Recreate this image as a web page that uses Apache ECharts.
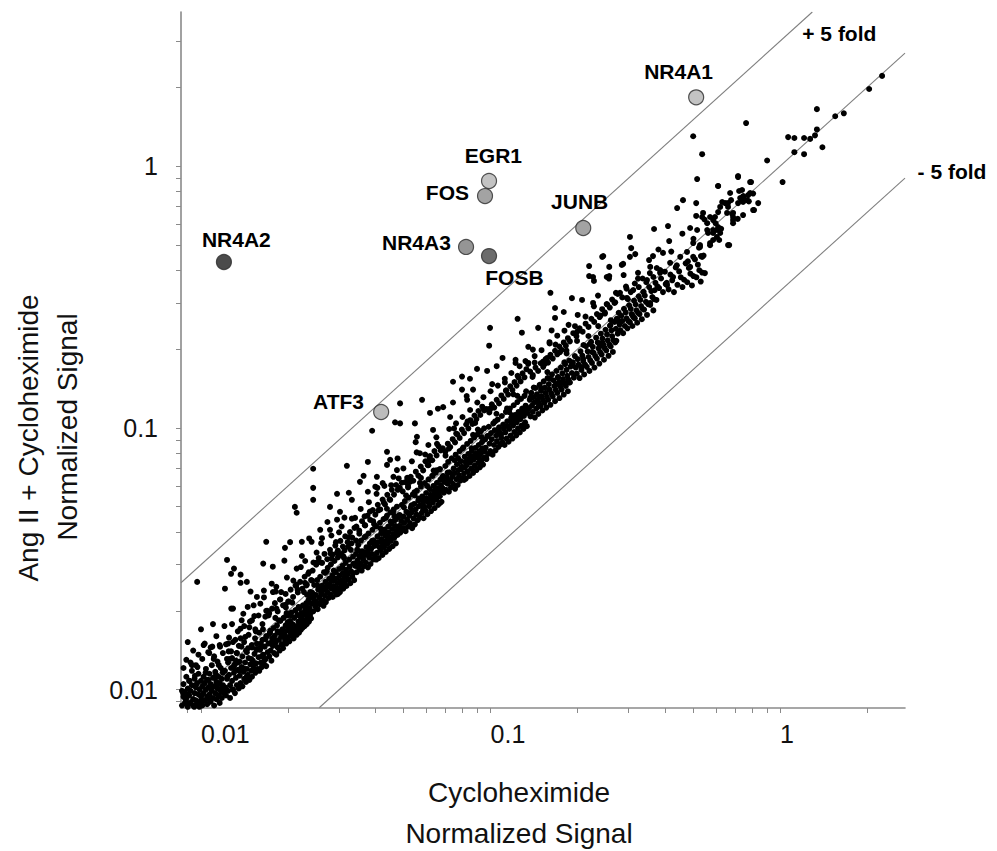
<!DOCTYPE html>
<html><head><meta charset="utf-8">
<script src="https://cdn.jsdelivr.net/npm/echarts@6/dist/echarts.min.js"></script>
<style>html,body{margin:0;padding:0;background:#fff}#c{width:997px;height:851px}</style>
</head><body><div id="c"></div>
<script>
// ---------- axis ticks / labels ----------
const xTickValues = [0.009,0.01,0.02,0.03,0.04,0.05,0.06,0.07,0.08,0.09,0.1,0.2,0.3,0.4,0.5,0.6,0.7,0.8,0.9,1,2];
const xLabelValues = [0.01,0.1,1];
const yTickValues = [0.009,0.01,0.02,0.03,0.04,0.05,0.06,0.07,0.08,0.09,0.1,0.2,0.3,0.4,0.5,0.6,0.7,0.8,0.9,1,2,3];
const yLabelValues = [0.01,0.1,1];
const xRange = [0.00853, 2.70];
const yRange = [0.00851, 3.877];

// ---------- reference lines (+5 fold, identity, -5 fold as drawn) ----------
const foldUpperLine = [[0.00853,0.0256],[1.292,3.877]];
const identityLine = [[0.00853,0.00853],[2.70,2.70]];
const foldLowerLine = [[0.0256,0.00853],[2.70,0.90]];
const foldLabels = ['+ 5 fold','- 5 fold'];

// ---------- highlighted genes ----------
const geneNames = ['NR4A2','NR4A1','EGR1','FOS','JUNB','NR4A3','FOSB','ATF3'];
const geneX = [0.0120,0.513,0.0988,0.0957,0.209,0.0823,0.0988,0.0419];
const geneY = [0.430,1.83,0.877,0.768,0.580,0.491,0.453,0.115];

// ---------- genes scatter (Cycloheximide, Ang II + Cycloheximide) ----------
const bandLow = [
[0.0085,0.0092],[0.0086,0.0087],[0.0086,0.0099],[0.0087,0.0094],[0.0087,0.0105],[0.0088,0.0089],[0.0088,0.0098],[0.0089,0.0093],[0.0089,0.0112],[0.0090,0.0086],
[0.0090,0.0101],[0.0091,0.0095],[0.0091,0.0108],[0.0092,0.0089],[0.0092,0.0099],[0.0093,0.0104],[0.0093,0.0118],[0.0094,0.0092],[0.0094,0.0087],[0.0095,0.0097],
[0.0095,0.0110],[0.0096,0.0102],[0.0096,0.0091],[0.0097,0.0088],[0.0097,0.0106],[0.0098,0.0096],[0.0098,0.0115],[0.0099,0.0100],[0.0099,0.0090],[0.0100,0.0094],
[0.0100,0.0108],[0.0101,0.0087],[0.0101,0.0103],[0.0102,0.0097],[0.0102,0.0112],[0.0103,0.0091],[0.0103,0.0106],[0.0104,0.0100],[0.0104,0.0120],[0.0105,0.0094],
[0.0105,0.0088],[0.0106,0.0109],[0.0106,0.0102],[0.0107,0.0096],[0.0107,0.0115],[0.0108,0.0090],[0.0108,0.0105],[0.0109,0.0099],[0.0109,0.0124],[0.0110,0.0093],
[0.0110,0.0111],[0.0111,0.0103],[0.0111,0.0087],[0.0112,0.0097],[0.0112,0.0117],[0.0113,0.0107],[0.0113,0.0092],[0.0114,0.0101],[0.0114,0.0128],[0.0115,0.0095],
[0.0115,0.0112],[0.0116,0.0106],[0.0116,0.0089],[0.0117,0.0099],[0.0117,0.0121],[0.0118,0.0110],[0.0118,0.0093],[0.0119,0.0104],[0.0119,0.0116],[0.0120,0.0097],
[0.0087,0.0121],[0.0089,0.0130],[0.0092,0.0127],[0.0094,0.0141],[0.0096,0.0124],[0.0098,0.0136],[0.0101,0.0131],[0.0103,0.0150],[0.0106,0.0139],[0.0108,0.0145],
[0.0111,0.0134],[0.0113,0.0160],[0.0116,0.0148],[0.0119,0.0138],[0.0090,0.0152],[0.0100,0.0170],[0.0110,0.0178],
[0.0121,0.0102],[0.0121,0.0118],[0.0122,0.0095],[0.0123,0.0110],[0.0124,0.0127],[0.0124,0.0099],[0.0125,0.0114],[0.0126,0.0104],[0.0126,0.0093],[0.0127,0.0121],
[0.0128,0.0108],[0.0128,0.0132],[0.0129,0.0100],[0.0130,0.0116],[0.0131,0.0125],[0.0131,0.0097],[0.0132,0.0111],[0.0133,0.0104],[0.0133,0.0138],[0.0134,0.0119],
[0.0135,0.0101],[0.0136,0.0128],[0.0136,0.0113],[0.0137,0.0106],[0.0138,0.0122],[0.0139,0.0134],[0.0139,0.0103],[0.0140,0.0117],[0.0141,0.0110],[0.0142,0.0127],
[0.0143,0.0141],[0.0143,0.0107],[0.0144,0.0120],[0.0145,0.0114],[0.0146,0.0132],[0.0147,0.0109],[0.0148,0.0125],[0.0149,0.0118],[0.0150,0.0145],[0.0150,0.0112],
[0.0151,0.0129],[0.0152,0.0121],[0.0153,0.0137],[0.0154,0.0116],[0.0155,0.0126],[0.0156,0.0150],[0.0157,0.0120],[0.0158,0.0133],[0.0159,0.0118],[0.0160,0.0142],
[0.0161,0.0127],[0.0162,0.0122],[0.0163,0.0155],[0.0164,0.0136],[0.0165,0.0125],[0.0166,0.0146],[0.0167,0.0131],[0.0168,0.0123],[0.0169,0.0160],[0.0170,0.0139],
[0.0123,0.0131],[0.0127,0.0140],[0.0132,0.0129],[0.0138,0.0146],[0.0144,0.0139],[0.0149,0.0131],[0.0155,0.0143],[0.0161,0.0150],[0.0167,0.0156],
[0.0122,0.0149],[0.0125,0.0158],[0.0129,0.0152],[0.0134,0.0167],[0.0137,0.0157],[0.0141,0.0175],[0.0146,0.0162],[0.0150,0.0184],[0.0154,0.0170],[0.0158,0.0192],
[0.0163,0.0178],[0.0168,0.0200],[0.0128,0.0178],[0.0140,0.0195],[0.0152,0.0210],[0.0165,0.0225],
[0.0171,0.0150],[0.0172,0.0134],[0.0173,0.0165],[0.0174,0.0141],[0.0175,0.0129],[0.0176,0.0157],[0.0177,0.0147],[0.0178,0.0172],[0.0179,0.0138],[0.0180,0.0161],
[0.0181,0.0151],[0.0182,0.0136],[0.0183,0.0176],[0.0184,0.0145],[0.0185,0.0166],[0.0186,0.0155],[0.0187,0.0141],[0.0188,0.0183],[0.0189,0.0160],[0.0190,0.0149],
[0.0191,0.0170],[0.0192,0.0144],[0.0193,0.0188],[0.0194,0.0163],[0.0195,0.0155],[0.0196,0.0176],[0.0197,0.0150],[0.0198,0.0168],[0.0199,0.0192],[0.0200,0.0159],
[0.0201,0.0174],[0.0202,0.0153],[0.0203,0.0183],[0.0204,0.0165],[0.0205,0.0197],[0.0206,0.0160],[0.0207,0.0178],[0.0208,0.0170],[0.0209,0.0157],[0.0210,0.0188],
[0.0211,0.0166],[0.0212,0.0201],[0.0213,0.0175],[0.0214,0.0162],[0.0215,0.0193],[0.0216,0.0171],[0.0217,0.0182],[0.0218,0.0165],[0.0219,0.0205],[0.0220,0.0178],
[0.0221,0.0169],[0.0222,0.0196],[0.0223,0.0186],[0.0224,0.0172],[0.0225,0.0210],[0.0226,0.0181],[0.0227,0.0193],[0.0228,0.0175],[0.0229,0.0203],[0.0230,0.0184],
[0.0231,0.0214],[0.0232,0.0178],[0.0233,0.0197],[0.0234,0.0189],[0.0235,0.0220],[0.0236,0.0182],[0.0237,0.0205],[0.0238,0.0193],[0.0239,0.0226],[0.0240,0.0187],
[0.0172,0.0196],[0.0176,0.0204],[0.0180,0.0214],[0.0184,0.0199],[0.0188,0.0221],[0.0192,0.0210],[0.0196,0.0232],[0.0200,0.0217],[0.0204,0.0241],[0.0208,0.0226],
[0.0212,0.0250],[0.0216,0.0235],[0.0220,0.0258],[0.0224,0.0243],[0.0228,0.0270],[0.0232,0.0252],[0.0236,0.0281],[0.0240,0.0262],[0.0182,0.0247],[0.0198,0.0268],
[0.0214,0.0290],[0.0229,0.0310]
];
const bandMid = [
[0.0241,0.0213],[0.0242,0.0235],[0.0244,0.0199],[0.0245,0.0222],[0.0246,0.0251],[0.0248,0.0208],[0.0249,0.0230],[0.0250,0.0217],[0.0252,0.0262],[0.0253,0.0203],
[0.0254,0.0241],[0.0256,0.0225],[0.0257,0.0212],[0.0258,0.0270],[0.0260,0.0233],[0.0261,0.0219],[0.0262,0.0250],[0.0264,0.0240],[0.0265,0.0209],[0.0266,0.0281],
[0.0268,0.0228],[0.0269,0.0258],[0.0270,0.0216],[0.0272,0.0246],[0.0273,0.0236],[0.0274,0.0292],[0.0276,0.0224],[0.0277,0.0265],[0.0278,0.0252],[0.0280,0.0231],
[0.0281,0.0301],[0.0282,0.0243],[0.0284,0.0273],[0.0285,0.0226],[0.0286,0.0260],[0.0288,0.0248],[0.0289,0.0310],[0.0290,0.0237],[0.0292,0.0281],[0.0293,0.0266],
[0.0294,0.0231],[0.0296,0.0255],[0.0297,0.0320],[0.0298,0.0244],[0.0300,0.0289],[0.0301,0.0273],[0.0302,0.0236],[0.0304,0.0261],[0.0305,0.0330],[0.0306,0.0251],
[0.0308,0.0297],[0.0309,0.0279],[0.0310,0.0243],[0.0312,0.0268],[0.0313,0.0340],[0.0314,0.0256],[0.0316,0.0305],[0.0317,0.0287],[0.0318,0.0249],[0.0320,0.0275],
[0.0322,0.0351],[0.0323,0.0263],[0.0325,0.0314],[0.0326,0.0295],[0.0328,0.0255],[0.0330,0.0283],[0.0331,0.0362],[0.0333,0.0270],[0.0335,0.0322],[0.0336,0.0303],
[0.0338,0.0262],
[0.0243,0.0285],[0.0250,0.0300],[0.0255,0.0318],[0.0262,0.0305],[0.0267,0.0330],[0.0273,0.0315],[0.0279,0.0342],[0.0285,0.0328],[0.0291,0.0355],[0.0297,0.0340],
[0.0303,0.0370],[0.0309,0.0352],[0.0315,0.0385],[0.0321,0.0366],[0.0327,0.0400],[0.0333,0.0381],[0.0339,0.0415],[0.0260,0.0362],[0.0282,0.0388],[0.0306,0.0420],
[0.0332,0.0450],
[0.0341,0.0297],[0.0343,0.0330],[0.0345,0.0281],[0.0347,0.0312],[0.0349,0.0357],[0.0351,0.0292],[0.0353,0.0322],[0.0355,0.0303],[0.0357,0.0371],[0.0359,0.0285],
[0.0361,0.0338],[0.0363,0.0315],[0.0365,0.0296],[0.0367,0.0382],[0.0369,0.0327],[0.0371,0.0306],[0.0373,0.0350],[0.0375,0.0336],[0.0377,0.0293],[0.0379,0.0395],
[0.0381,0.0319],[0.0383,0.0362],[0.0385,0.0302],[0.0387,0.0345],[0.0389,0.0330],[0.0391,0.0408],[0.0393,0.0314],[0.0395,0.0372],[0.0397,0.0354],[0.0399,0.0322],
[0.0401,0.0357],[0.0403,0.0420],[0.0405,0.0333],[0.0407,0.0385],[0.0409,0.0366],[0.0411,0.0318],[0.0413,0.0350],[0.0415,0.0434],[0.0417,0.0341],[0.0419,0.0396],
[0.0421,0.0376],[0.0423,0.0327],[0.0425,0.0361],[0.0427,0.0448],[0.0429,0.0350],[0.0431,0.0409],[0.0433,0.0388],[0.0435,0.0336],[0.0437,0.0371],[0.0439,0.0462],
[0.0441,0.0360],[0.0443,0.0420],[0.0445,0.0399],[0.0447,0.0345],[0.0449,0.0382],[0.0451,0.0475],[0.0453,0.0370],[0.0455,0.0432],[0.0457,0.0411],[0.0459,0.0353],
[0.0461,0.0393],[0.0463,0.0488],[0.0465,0.0380],[0.0467,0.0444],[0.0469,0.0422],[0.0471,0.0362],[0.0473,0.0404],[0.0475,0.0500],[0.0477,0.0390],[0.0479,0.0456],
[0.0344,0.0420],[0.0352,0.0405],[0.0360,0.0440],[0.0368,0.0425],[0.0376,0.0462],[0.0384,0.0445],[0.0392,0.0485],[0.0400,0.0466],[0.0408,0.0508],[0.0416,0.0488],
[0.0424,0.0532],[0.0432,0.0510],[0.0440,0.0555],[0.0448,0.0533],[0.0456,0.0580],[0.0464,0.0556],[0.0472,0.0605],[0.0478,0.0580],[0.0356,0.0490],[0.0380,0.0520],
[0.0404,0.0560],[0.0430,0.0600],[0.0462,0.0650],
[0.0482,0.0420],[0.0485,0.0465],[0.0488,0.0398],[0.0491,0.0441],[0.0494,0.0508],[0.0497,0.0410],[0.0500,0.0458],[0.0503,0.0433],[0.0506,0.0525],[0.0509,0.0403],
[0.0512,0.0478],[0.0515,0.0446],[0.0518,0.0419],[0.0521,0.0541],[0.0524,0.0462],[0.0527,0.0433],[0.0530,0.0495],[0.0533,0.0475],[0.0536,0.0414],[0.0539,0.0557],
[0.0542,0.0451],[0.0545,0.0512],[0.0548,0.0428],[0.0551,0.0488],[0.0554,0.0467],[0.0557,0.0576],[0.0560,0.0444],[0.0563,0.0527],[0.0566,0.0502],[0.0569,0.0455],
[0.0572,0.0505],[0.0575,0.0596],[0.0578,0.0473],[0.0581,0.0547],[0.0584,0.0523],[0.0587,0.0452],[0.0590,0.0500],[0.0593,0.0615],[0.0596,0.0484],[0.0599,0.0564],
[0.0602,0.0537],[0.0605,0.0468],[0.0608,0.0520],[0.0611,0.0636],[0.0614,0.0502],[0.0617,0.0583],[0.0620,0.0555],[0.0623,0.0481],[0.0626,0.0537],[0.0629,0.0655],
[0.0632,0.0518],[0.0635,0.0600],[0.0638,0.0572],[0.0641,0.0494],[0.0644,0.0551],[0.0647,0.0674],[0.0650,0.0533],[0.0653,0.0617],[0.0656,0.0588],[0.0659,0.0508],
[0.0662,0.0567],[0.0665,0.0693],[0.0668,0.0548],[0.0671,0.0634],[0.0674,0.0605],[0.0677,0.0522],
[0.0486,0.0590],[0.0497,0.0572],[0.0508,0.0620],[0.0519,0.0600],[0.0530,0.0650],[0.0541,0.0628],[0.0552,0.0680],[0.0563,0.0657],[0.0574,0.0712],[0.0585,0.0688],
[0.0596,0.0745],[0.0607,0.0720],[0.0618,0.0780],[0.0629,0.0752],[0.0640,0.0815],[0.0651,0.0785],[0.0662,0.0850],[0.0673,0.0820],[0.0500,0.0700],[0.0535,0.0745],
[0.0570,0.0800],[0.0610,0.0860],[0.0650,0.0920],
[0.0681,0.0590],[0.0686,0.0655],[0.0690,0.0565],[0.0694,0.0622],[0.0698,0.0715],[0.0702,0.0580],[0.0706,0.0648],[0.0710,0.0612],[0.0714,0.0741],[0.0718,0.0570],
[0.0722,0.0676],[0.0726,0.0630],[0.0730,0.0592],[0.0734,0.0765],[0.0738,0.0652],[0.0742,0.0611],[0.0746,0.0700],[0.0750,0.0672],[0.0754,0.0585],[0.0758,0.0790],
[0.0762,0.0637],[0.0766,0.0726],[0.0770,0.0605],[0.0774,0.0690],[0.0778,0.0660],[0.0782,0.0815],[0.0786,0.0628],[0.0790,0.0745],[0.0794,0.0710],[0.0798,0.0643],
[0.0802,0.0707],[0.0806,0.0842],[0.0810,0.0670],[0.0814,0.0776],[0.0818,0.0742],[0.0822,0.0640],[0.0826,0.0720],[0.0830,0.0868],[0.0834,0.0683],[0.0838,0.0795],
[0.0842,0.0760],[0.0846,0.0655],[0.0850,0.0737],[0.0854,0.0892],[0.0858,0.0700],[0.0862,0.0816],[0.0866,0.0778],[0.0870,0.0673],[0.0874,0.0755],[0.0878,0.0918],
[0.0882,0.0717],[0.0886,0.0838],[0.0890,0.0797],[0.0894,0.0690],[0.0898,0.0773],[0.0902,0.0944],[0.0906,0.0734],[0.0910,0.0860],[0.0914,0.0816],[0.0918,0.0707],
[0.0922,0.0792],[0.0926,0.0970],[0.0930,0.0752],[0.0934,0.0881],[0.0938,0.0835],[0.0942,0.0724],[0.0946,0.0811],[0.0950,0.0996],[0.0954,0.0770],[0.0958,0.0903],
[0.0684,0.0835],[0.0698,0.0810],[0.0712,0.0870],[0.0726,0.0845],[0.0740,0.0905],[0.0754,0.0880],[0.0768,0.0945],[0.0782,0.0915],[0.0796,0.0985],[0.0810,0.0955],
[0.0824,0.1030],[0.0838,0.0995],[0.0852,0.1070],[0.0866,0.1035],[0.0880,0.1115],[0.0894,0.1080],[0.0908,0.1160],[0.0922,0.1120],[0.0936,0.1205],[0.0950,0.1165],
[0.0720,0.0990],[0.0760,0.1040],[0.0800,0.1100],[0.0850,0.1170],[0.0900,0.1250],[0.0945,0.1310]
];
const bandHigh = [
[0.0962,0.0840],[0.0968,0.0760],[0.0974,0.0930],[0.0980,0.0795],[0.0986,0.1010],[0.0992,0.0870],[0.0998,0.0815],[0.1004,0.0955],[0.1010,0.0905],[0.1016,0.0790],
[0.1022,0.1040],[0.1028,0.0860],[0.1034,0.0980],[0.1040,0.0820],[0.1046,0.0935],[0.1052,0.0890],[0.1058,0.1075],[0.1064,0.0845],[0.1070,0.1005],[0.1076,0.0960],
[0.1082,0.0865],[0.1088,0.0945],[0.1094,0.1110],[0.1100,0.0880],[0.1106,0.1030],[0.1112,0.0990],[0.1118,0.0860],[0.1124,0.0960],[0.1130,0.1150],[0.1136,0.0910],
[0.1142,0.1060],[0.1148,0.1015],[0.1154,0.0885],[0.1160,0.0990],[0.1166,0.1185],[0.1172,0.0935],[0.1178,0.1090],[0.1184,0.1045],[0.1190,0.0910],[0.1196,0.1020],
[0.1202,0.1220],[0.1208,0.0965],[0.1214,0.1120],[0.1220,0.1075],[0.1226,0.0935],[0.1232,0.1050],[0.1238,0.1255],[0.1244,0.0995],[0.1250,0.1150],[0.1256,0.1105],
[0.1262,0.0960],[0.1268,0.1080],[0.1274,0.1290],[0.1280,0.1020],[0.1286,0.1185],[0.1292,0.1135],[0.1298,0.0990],[0.1304,0.1110],[0.1310,0.1325],[0.1316,0.1050],
[0.1322,0.1215],[0.1328,0.1165],[0.1334,0.1015],[0.1340,0.1140],
[0.0970,0.1180],[0.0990,0.1145],[0.1010,0.1230],[0.1030,0.1195],[0.1050,0.1280],[0.1070,0.1240],[0.1090,0.1330],[0.1110,0.1290],[0.1130,0.1385],[0.1150,0.1340],
[0.1170,0.1440],[0.1190,0.1395],[0.1210,0.1495],[0.1230,0.1450],[0.1250,0.1555],[0.1270,0.1505],[0.1290,0.1615],[0.1310,0.1560],[0.1330,0.1675],[0.1000,0.1380],
[0.1060,0.1450],[0.1120,0.1540],[0.1180,0.1620],[0.1260,0.1720],[0.1320,0.1800],
[0.1358,0.1190],[0.1366,0.1280],[0.1374,0.1105],[0.1382,0.1360],[0.1390,0.1215],[0.1398,0.1150],[0.1406,0.1310],[0.1414,0.1250],[0.1422,0.1095],[0.1430,0.1420],
[0.1438,0.1185],[0.1446,0.1345],[0.1454,0.1280],[0.1462,0.1130],[0.1470,0.1240],[0.1478,0.1460],[0.1486,0.1210],[0.1494,0.1385],[0.1502,0.1320],[0.1510,0.1165],
[0.1518,0.1275],[0.1526,0.1505],[0.1534,0.1245],[0.1542,0.1425],[0.1550,0.1360],[0.1558,0.1195],[0.1566,0.1315],[0.1574,0.1550],[0.1582,0.1280],[0.1590,0.1470],
[0.1600,0.1400],[0.1610,0.1225],[0.1620,0.1355],[0.1630,0.1600],[0.1640,0.1320],[0.1650,0.1520],[0.1660,0.1445],[0.1670,0.1265],[0.1680,0.1395],[0.1690,0.1650],
[0.1700,0.1360],[0.1710,0.1565],[0.1720,0.1490],[0.1730,0.1300],[0.1740,0.1440],[0.1750,0.1700],[0.1760,0.1400],[0.1770,0.1615],[0.1780,0.1535],[0.1790,0.1340],
[0.1800,0.1485],[0.1810,0.1750],[0.1820,0.1445],[0.1830,0.1665],[0.1840,0.1580],[0.1850,0.1380],[0.1860,0.1530],[0.1870,0.1805],[0.1880,0.1490],[0.1890,0.1715],
[0.1370,0.1640],[0.1400,0.1590],[0.1430,0.1700],[0.1460,0.1650],[0.1490,0.1765],[0.1520,0.1710],[0.1550,0.1830],[0.1580,0.1775],[0.1610,0.1900],[0.1640,0.1840],
[0.1670,0.1970],[0.1700,0.1910],[0.1730,0.2045],[0.1760,0.1985],[0.1790,0.2120],[0.1820,0.2060],[0.1850,0.2200],[0.1880,0.2140],[0.1420,0.1880],[0.1500,0.1980],
[0.1600,0.2100],[0.1700,0.2250],[0.1800,0.2350],
[0.1910,0.1620],[0.1925,0.1780],[0.1940,0.1555],[0.1955,0.1880],[0.1970,0.1700],[0.1985,0.1610],[0.2000,0.1830],[0.2015,0.1745],[0.2030,0.1550],[0.2045,0.1960],
[0.2060,0.1665],[0.2075,0.1890],[0.2090,0.1800],[0.2105,0.1600],[0.2120,0.1745],[0.2135,0.2050],[0.2150,0.1710],[0.2165,0.1960],[0.2180,0.1865],[0.2195,0.1650],
[0.2210,0.1810],[0.2225,0.2130],[0.2240,0.1770],[0.2255,0.2040],[0.2270,0.1935],[0.2285,0.1700],[0.2300,0.1880],[0.2315,0.2210],[0.2330,0.1840],[0.2345,0.2120],
[0.2360,0.2010],[0.2375,0.1760],[0.2390,0.1945],[0.2405,0.2290],[0.2420,0.1905],[0.2435,0.2195],[0.2450,0.2080],[0.2465,0.1820],[0.2480,0.2015],[0.2495,0.2370],
[0.2510,0.1975],[0.2525,0.2275],[0.2540,0.2160],[0.2555,0.1885],[0.2570,0.2085],[0.2585,0.2455],[0.2600,0.2045],[0.2615,0.2355],[0.2630,0.2240],[0.2645,0.1950],
[0.2660,0.2160],[0.2680,0.2540],[0.2695,0.2120],
[0.1930,0.2300],[0.1980,0.2240],[0.2030,0.2400],[0.2080,0.2330],[0.2130,0.2500],[0.2180,0.2430],[0.2230,0.2610],[0.2280,0.2540],[0.2330,0.2720],[0.2380,0.2650],
[0.2430,0.2840],[0.2480,0.2760],[0.2530,0.2960],[0.2580,0.2880],[0.2630,0.3090],[0.2680,0.3000],
[0.2710,0.2390],[0.2730,0.2610],[0.2750,0.2290],[0.2770,0.2750],[0.2790,0.2480],[0.2810,0.2360],[0.2830,0.2680],[0.2850,0.2560],[0.2870,0.2300],[0.2890,0.2850],
[0.2910,0.2450],[0.2930,0.2760],[0.2950,0.2620],[0.2970,0.2400],[0.2990,0.2560],[0.3010,0.2940],[0.3030,0.2530],[0.3050,0.2850],[0.3070,0.2720],[0.3090,0.2450],
[0.3110,0.2650],[0.3130,0.3060],[0.3150,0.2620],[0.3170,0.2960],[0.3190,0.2810],[0.3210,0.2520],[0.3230,0.2750],[0.3250,0.3180],[0.3270,0.2720],[0.3290,0.3080],
[0.3310,0.2920],[0.3330,0.2600],[0.3350,0.2850],[0.3370,0.3300],[0.3390,0.2830],[0.3410,0.3200],[0.3440,0.3030],[0.3470,0.2700],[0.3500,0.2970],[0.3530,0.3450],
[0.3560,0.2950],[0.3590,0.3330],[0.3620,0.3160],[0.3650,0.2810],[0.3680,0.3100],[0.3710,0.3580],[0.3740,0.3080],[0.3770,0.3470],
[0.2750,0.3250],[0.2850,0.3150],[0.2950,0.3400],[0.3050,0.3300],[0.3150,0.3560],[0.3250,0.3450],[0.3350,0.3720],[0.3450,0.3600],[0.3550,0.3900],[0.3650,0.3770],
[0.3750,0.4080]
];
const bandFill = [
[0.00885,0.0092],[0.00913,0.0108],[0.00948,0.0086],[0.00972,0.0122],[0.01005,0.0095],[0.01037,0.0116],[0.01062,0.0092],[0.01094,0.0146],[0.01118,0.0111],[0.01152,0.0124],
[0.01176,0.0098],[0.01205,0.0175],[0.01233,0.0112],[0.01258,0.0131],[0.01287,0.0100],[0.01314,0.0155],[0.01342,0.0127],[0.01369,0.0171],[0.01395,0.0121],[0.01422,0.0159],
[0.01455,0.0144],[0.01483,0.0237],[0.01511,0.0125],[0.01546,0.0167],[0.01574,0.0143],[0.01603,0.0213],[0.01637,0.0170],[0.01662,0.0130],[0.01695,0.0200],[0.01728,0.0164],
[0.01755,0.0254],[0.01789,0.0156],[0.01822,0.0204],[0.01858,0.0184],[0.01891,0.0236],[0.01924,0.0160],[0.01957,0.0211],[0.01993,0.0181],[0.02031,0.0366],[0.02066,0.0215],
[0.02103,0.0164],[0.02138,0.0252],[0.02174,0.0207],[0.02212,0.0294],[0.02249,0.0196],[0.02287,0.0256],[0.02326,0.0230],[0.02364,0.0378],[0.02402,0.0199],
[0.00868,0.0097],[0.00897,0.0089],[0.00931,0.0124],[0.00959,0.0104],[0.00987,0.0086],[0.01021,0.0148],[0.01049,0.0109],[0.01078,0.0102],[0.01107,0.0131],[0.01138,0.0104],
[0.01164,0.0146],[0.01191,0.0118],[0.01219,0.0101],[0.01246,0.0140],[0.01272,0.0204],[0.01301,0.0124],[0.01328,0.0138],[0.01356,0.0118],[0.01382,0.0184],[0.01409,0.0152],
[0.01438,0.0112],[0.01469,0.0173],[0.01497,0.0148],[0.01528,0.0191],[0.01559,0.0142],[0.01588,0.0165],[0.01619,0.0134],[0.01649,0.0239],[0.01679,0.0160],[0.01711,0.0192],
[0.01741,0.0151],[0.01772,0.0236],[0.01806,0.0188],[0.01839,0.0167],[0.01874,0.0221],[0.01907,0.0149],[0.01941,0.0311],[0.01975,0.0196],[0.02012,0.0217],[0.02048,0.0170],
[0.02084,0.0261],[0.02121,0.0201],[0.02156,0.0241],[0.02193,0.0191],[0.02231,0.0324],[0.02268,0.0236],[0.02306,0.0210],[0.02345,0.0277],[0.02383,0.0236],
[0.02421,0.0261],[0.02463,0.0214],[0.02508,0.0334],[0.02549,0.0242],[0.02594,0.0306],[0.02641,0.0219],[0.02685,0.0279],[0.02733,0.0437],[0.02779,0.0253],[0.02826,0.0317],
[0.02874,0.0285],[0.02925,0.0366],[0.02972,0.0232],[0.03024,0.0327],[0.03077,0.0292],[0.03129,0.0454],[0.03182,0.0277],[0.03236,0.0382],[0.03291,0.0342],[0.03348,0.0278],
[0.03405,0.0453],[0.03462,0.0343],[0.03522,0.0394],[0.03581,0.0326],[0.03643,0.0656],[0.03705,0.0385],[0.03768,0.0328],[0.03832,0.0479],[0.03898,0.0370],[0.03964,0.0428],
[0.04031,0.0314],[0.04101,0.0484],[0.04171,0.0413],[0.04242,0.0615],[0.04314,0.0393],[0.04388,0.0491],[0.04462,0.0370],[0.04538,0.0604],[0.04615,0.0480],[0.04694,0.0446],
[0.04774,0.0764],[0.04856,0.0422],[0.04938,0.0617],[0.05022,0.0497],[0.05108,0.0552],[0.05195,0.0473],[0.05283,0.0623],[0.05373,0.0419],[0.05465,0.0568],[0.05558,0.0806],
[0.05652,0.0537],[0.05749,0.0644],[0.05847,0.0485],[0.05946,0.0791],[0.06047,0.0599],[0.06150,0.0769],[0.06255,0.0544],[0.06361,0.0687],[0.06469,0.0589],[0.06580,0.1184],
[0.06692,0.0696],[0.06806,0.0647],
[0.02445,0.0306],[0.02527,0.0250],[0.02617,0.0379],[0.02709,0.0247],[0.02802,0.0331],[0.02899,0.0241],[0.02998,0.0399],[0.03102,0.0323],[0.03209,0.0279],[0.03319,0.0531],
[0.03433,0.0371],[0.03551,0.0337],[0.03673,0.0459],[0.03800,0.0346],[0.03931,0.0440],[0.04066,0.0590],[0.04206,0.0366],[0.04351,0.0453],[0.04501,0.0531],[0.04656,0.0461],
[0.04816,0.0641],[0.04982,0.0414],[0.05153,0.0644],[0.05331,0.0506],[0.05514,0.0882],[0.05704,0.0616],[0.05900,0.0537],[0.06103,0.0720],[0.06313,0.0657],[0.06531,0.0869],
[0.06756,0.0588],
[0.0699,0.0783],[0.0723,0.0629],[0.0748,0.0995],[0.0773,0.0765],[0.0800,0.0832],[0.0827,0.1323],[0.0856,0.0779],[0.0885,0.1044],[0.0916,0.0760],[0.0947,0.1184],
[0.0980,0.0931],[0.1013,0.1469],[0.1048,0.1132],[0.1084,0.0943],[0.1121,0.1491],[0.1160,0.1148],[0.1199,0.1343],[0.1241,0.1129],[0.1283,0.2309],[0.1327,0.1380],
[0.1373,0.1304],[0.1420,0.1775],[0.1469,0.1219],[0.1519,0.1792],[0.1571,0.1634],[0.1625,0.2356],[0.1681,0.1462],[0.1738,0.1947],[0.1798,0.1780],[0.1860,0.2474],
[0.1923,0.1750],[0.1989,0.2148],[0.2057,0.1707],[0.2128,0.2660],[0.2201,0.2091],[0.2276,0.3642],[0.2354,0.2448],[0.2435,0.2118],[0.2518,0.2971],[0.2604,0.2578],
[0.2694,0.3017],[0.2786,0.2535],[0.2882,0.3833],[0.2980,0.3099],
[0.0711,0.0675],[0.0761,0.0951],[0.0813,0.0707],[0.0870,0.0940],[0.0931,0.0922],[0.0996,0.1175],[0.1066,0.0970],[0.1140,0.1186],[0.1220,0.1769],[0.1305,0.1135],
[0.1396,0.1564],[0.1494,0.1419],[0.1598,0.2125],[0.1710,0.1556],[0.1829,0.1975],[0.1957,0.2446],[0.2094,0.2073],[0.2240,0.1949],[0.2397,0.2685],[0.2564,0.3718],
[0.2744,0.2607],[0.2936,0.3464]
];
const bandExtra = [
[0.0312,0.0318],[0.0347,0.0298],[0.0369,0.0424],[0.0395,0.0367],[0.0428,0.0518],[0.0452,0.0438],[0.0483,0.0411],[0.0519,0.0592],[0.0547,0.0552],[0.0588,0.0523],
[0.0617,0.0753],[0.0649,0.0688],[0.0683,0.0574],[0.0718,0.0833],[0.0752,0.0752],[0.0791,0.0696],[0.0833,0.1058],[0.0861,0.0835],[0.0904,0.0985],[0.0952,0.0819],
[0.0993,0.1182],[0.1037,0.1058],[0.1089,0.0915],[0.1132,0.1392],[0.1187,0.1116],[0.1238,0.1325],[0.1292,0.1124],[0.1349,0.1754],[0.1411,0.1425],[0.1473,0.1311],
[0.1537,0.1752],[0.1606,0.1542],[0.1677,0.2079],[0.1752,0.1489],[0.1831,0.1923],[0.1912,0.1759],[0.1996,0.2335],[0.2087,0.1837],[0.2178,0.2243],[0.2276,0.2913],
[0.2378,0.2045],[0.2484,0.2732],[0.2595,0.2465],[0.2711,0.3280],[0.2832,0.2549],[0.2958,0.3135],[0.3092,0.2690],[0.3231,0.3716],[0.3377,0.3309],[0.3528,0.4375],
[0.3687,0.3355],[0.3853,0.4007],[0.4026,0.3543],[0.4208,0.4713],[0.4398,0.4178],[0.4597,0.5516],[0.4804,0.4324],[0.5021,0.5272],[0.5247,0.4880],[0.5483,0.6251],
[0.5730,0.4985],[0.5988,0.6048],[0.6258,0.5757],[0.6540,0.7194],[0.6834,0.6561],[0.7142,0.6285],[0.7463,0.7687],[0.7799,0.7331],
[0.00905,0.0096],[0.00953,0.0113],[0.01012,0.0090],[0.01068,0.0138],[0.01127,0.0114],[0.01183,0.0102],[0.01241,0.0150],[0.01296,0.0121],[0.01351,0.0147],[0.01413,0.0120],
[0.01476,0.0182],[0.01537,0.0157],[0.01601,0.0144],[0.01668,0.0190],[0.01737,0.0168],[0.01812,0.0237],[0.01886,0.0166],[0.01964,0.0206],[0.02046,0.0192],[0.02131,0.0249],
[0.02219,0.0189],[0.02312,0.0250],[0.02407,0.0231],[0.02507,0.0306],[0.02611,0.0232],[0.02719,0.0283],[0.02832,0.0263],[0.02949,0.0333],[0.03071,0.0258]
];
const topCluster = [
[0.382,0.342],[0.388,0.372],[0.394,0.330],[0.400,0.395],[0.406,0.358],[0.412,0.338],[0.418,0.385],[0.424,0.366],[0.430,0.330],[0.436,0.410],
[0.442,0.352],[0.448,0.396],[0.454,0.376],[0.460,0.345],[0.466,0.368],[0.472,0.425],[0.478,0.360],[0.484,0.408],[0.490,0.388],[0.496,0.350],
[0.502,0.380],[0.508,0.440],[0.514,0.376],[0.520,0.420],[0.526,0.400],[0.532,0.362],[0.538,0.392],[0.544,0.455],[0.550,0.390],
[0.394,0.466],[0.410,0.590],[0.414,0.517],[0.441,0.691],[0.462,0.741],[0.501,1.30],[0.538,1.11],[0.517,0.892],[0.513,0.722],[0.513,0.645],
[0.489,0.580],[0.501,0.508],[0.533,0.453],[0.529,0.491],[0.477,0.470],[0.452,0.450],[0.417,0.427],[0.385,0.391],[0.427,0.377],[0.489,0.412],
[0.367,0.575],[0.356,0.412],[0.306,0.486],[0.303,0.536],[0.501,0.450],[0.517,0.570],[0.587,0.622],[0.605,0.570],[0.538,0.639],[0.407,0.351],
[0.347,0.367],[0.311,0.336],[0.280,0.328],[0.257,0.412],[0.226,0.377],[0.243,0.450],[0.252,0.377],[0.287,0.423],
[0.560,0.570],[0.573,0.639],[0.587,0.555],[0.611,0.667],[0.616,0.522],[0.661,0.499],[0.688,0.662],[0.807,0.679],[0.739,0.741],[0.776,0.775],
[0.840,0.722],[0.688,0.622],[0.661,0.722],[0.631,0.729],[0.611,0.839],[0.672,0.789],[0.716,0.916],[0.794,0.869],[0.722,0.803],[0.542,0.662],
[0.564,0.555],[0.587,0.570],[0.611,0.585],[0.587,0.522],[0.605,0.536],[0.573,0.508],[0.538,0.450],[0.667,0.499],[0.621,0.555],[0.656,0.662],
[0.661,0.698],[0.688,0.639],[0.688,0.605],[0.677,0.741],[0.716,0.722],[0.728,0.755],[0.745,0.762],[0.745,0.729],[0.745,0.650],[0.769,0.741],
[0.788,0.789],[0.807,0.785],[0.813,0.679],[0.739,0.810],[0.716,0.908],[0.788,0.869],[0.611,0.839],[0.646,0.722],[0.621,0.698],[0.560,0.605],
[0.596,0.639],[0.529,0.499],
[0.902,1.05],[1.02,0.869],[1.066,1.29],[1.12,1.28],[1.21,1.28],[1.27,1.27],[1.32,1.31],[1.34,1.38],[1.34,1.65],[1.55,1.55],
[1.66,1.59],[2.03,1.97],[2.25,2.21],[1.12,1.13],[1.21,1.11],[1.40,1.18],[0.763,1.46]
];
const outliers = [
[0.0097,0.0258],[0.0123,0.0313],[0.0130,0.0290],[0.0127,0.0277],[0.0137,0.0275],[0.0144,0.0258],[0.0137,0.0256],[0.0121,0.0243],[0.0168,0.0367],[0.0164,0.0303],
[0.0156,0.0226],[0.0129,0.0204],[0.0145,0.0207],[0.0177,0.0295],[0.0195,0.0348],[0.0223,0.0367],[0.0211,0.0499],[0.0214,0.0474],[0.0241,0.0367],[0.0244,0.0698],
[0.0244,0.0590],[0.0244,0.0531],[0.0279,0.0499],[0.0295,0.0560],[0.0324,0.0565],[0.0319,0.0716],[0.0295,0.0446],[0.0279,0.0408],[0.0258,0.0408],[0.0302,0.0478],
[0.0377,0.0741],[0.0390,0.0975],[0.0439,0.0810],[0.0468,0.1050],[0.0354,0.0622],[0.0405,0.0650],[0.0377,0.0570],[0.0400,0.0596],[0.0439,0.0722],[0.0450,0.0755],
[0.0475,0.0690],[0.0487,0.124],[0.0487,0.104],[0.0548,0.104],[0.0580,0.128],[0.0670,0.0517],[0.0633,0.0982],[0.0686,0.120],[0.0742,0.125],[0.0797,0.140],
[0.0870,0.140],[0.0725,0.110],[0.0618,0.114],[0.0557,0.0925],[0.0830,0.128],[0.0742,0.150],[0.0797,0.157],[0.0849,0.154],[0.0898,0.168],[0.0973,0.165],
[0.0810,0.0633],[0.0965,0.0768],[0.105,0.172],[0.110,0.185],[0.122,0.182],[0.135,0.204],[0.124,0.158],[0.0996,0.241],[0.0989,0.206],[0.124,0.261],
[0.135,0.177],[0.140,0.199],[0.157,0.185],[0.146,0.241],[0.161,0.328],[0.167,0.287],[0.179,0.277],[0.167,0.263],[0.187,0.149],[0.191,0.313],
[0.207,0.308],[0.226,0.300],[0.219,0.415],[0.219,0.380],[0.245,0.453],[0.257,0.380],[0.272,0.215],[0.200,0.270],[0.235,0.320],[0.284,0.419],
[0.303,0.450],[0.323,0.391],[0.316,0.461],[0.364,0.453],[0.356,0.300],[0.380,0.480]
];

// ---------- styles / layout (kept apart from the data) ----------
const geneFill = {NR4A2:'#1e1e1e',NR4A1:'#b4b4b4',EGR1:'#b4b4b4',FOS:'#8c8c8c',JUNB:'#8c8c8c',NR4A3:'#7a7a7a',FOSB:'#474747',ATF3:'#ababab'};
const geneLabelOffset = {NR4A2:[13,-22],NR4A1:[-17,-25],EGR1:[5,-25],FOS:[-37,-3],JUNB:[-3,-26],NR4A3:[-49,-4],FOSB:[26,22],ATF3:[-42,-10]};
const GENE_SIZE = 15;
const FONT = '"Liberation Sans", Arial, Helvetica, sans-serif';
const fmt = v => String(parseFloat(Number(v).toPrecision(6)));

const chart = echarts.init(document.getElementById('c'), null, {renderer:'svg'});
const allDots = bandLow.concat(bandMid, bandHigh, bandFill, bandExtra, topCluster, outliers);
const lineStyle = {color:'#808080', width:1.1};
const boldLabel = {fontFamily:FONT, fontWeight:'bold', fontSize:21, color:'#000000', textBorderWidth:0, opacity:1};
function labelAt(text, off, size){
  // position relative to the symbol box top-left; centre of symbol is size/2
  return Object.assign({show:true, formatter:text, position:[size/2 + off[0], size/2 + off[1]], align:'center', verticalAlign:'middle'}, boldLabel);
}

chart.setOption({
  animation:false,
  backgroundColor:'#ffffff',
  grid:{left:181, top:12, width:724, height:696, containLabel:false, outerBoundsMode:'none'},
  xAxis:{
    type:'log', logBase:10, min:xRange[0], max:xRange[1],
    axisLine:{show:true, lineStyle:{color:'#8a8a8a', width:1.6}},
    axisTick:{show:true, inside:false, length:5, customValues:xTickValues, lineStyle:{color:'#8a8a8a', width:1}},
    minorTick:{show:false},
    axisLabel:{show:true, customValues:xLabelValues, formatter:fmt, align:'left', margin:13,
               fontFamily:FONT, fontSize:25, color:'#111'},
    splitLine:{show:false}
  },
  yAxis:{
    type:'log', logBase:10, min:yRange[0], max:yRange[1],
    axisLine:{show:true, lineStyle:{color:'#8a8a8a', width:1.6}},
    axisTick:{show:true, inside:false, length:5, customValues:yTickValues, lineStyle:{color:'#8a8a8a', width:1}},
    minorTick:{show:false},
    axisLabel:{show:true, customValues:yLabelValues, formatter:fmt, margin:23,
               fontFamily:FONT, fontSize:25, color:'#111'},
    splitLine:{show:false}
  },
  series:[
    {type:'line', data:foldUpperLine, symbol:'none', lineStyle:lineStyle, silent:true, z:1},
    {type:'line', data:identityLine, symbol:'none', lineStyle:lineStyle, silent:true, z:1},
    {type:'line', data:foldLowerLine, symbol:'none', lineStyle:lineStyle, silent:true, z:1},
    {type:'scatter', data:allDots, symbol:'circle', symbolSize:6, itemStyle:{color:'#000000', opacity:1}, z:2, large:false},
    {type:'scatter', z:5, symbol:'circle', symbolSize:GENE_SIZE,
     data:geneNames.map((n,i)=>({
       name:n, value:[geneX[i], geneY[i]],
       itemStyle:{color:geneFill[n], borderColor:'#2a2a2a', borderWidth:1.2},
       label:labelAt(n, geneLabelOffset[n], GENE_SIZE)
     }))},
    {type:'scatter', z:5, symbolSize:2, silent:true, itemStyle:{color:'rgba(0,0,0,0)'},
     data:[
       {value:foldUpperLine[1], label:labelAt(foldLabels[0], [27,21], 2)},
       {value:foldLowerLine[1], label:labelAt(foldLabels[1], [47,-7], 2)}
     ]}
  ],
  graphic:[
    {type:'text', x:519, y:792, style:{text:'Cycloheximide', fontFamily:FONT, fontSize:28, fill:'#111', align:'center', verticalAlign:'middle'}},
    {type:'text', x:519, y:833, style:{text:'Normalized Signal', fontFamily:FONT, fontSize:28, fill:'#111', align:'center', verticalAlign:'middle'}},
    {type:'text', x:28, y:438, rotation:Math.PI/2, style:{text:'Ang II + Cycloheximide', fontFamily:FONT, fontSize:28, fill:'#111', align:'center', verticalAlign:'middle'}},
    {type:'text', x:67, y:427, rotation:Math.PI/2, style:{text:'Normalized Signal', fontFamily:FONT, fontSize:28, fill:'#111', align:'center', verticalAlign:'middle'}}
  ]
});
</script>
</body></html>
